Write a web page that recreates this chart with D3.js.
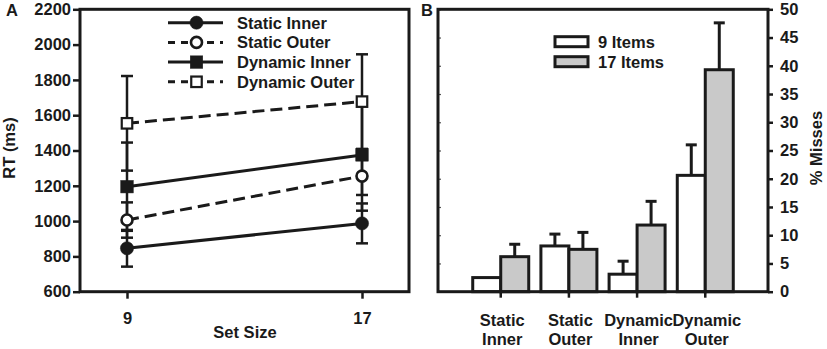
<!DOCTYPE html>
<html><head><meta charset="utf-8">
<script src="https://cdn.jsdelivr.net/npm/d3@7"></script>
<style>
html,body{margin:0;padding:0;background:#fff;}
svg text{font-family:"Liberation Sans",Arial,Helvetica,sans-serif;font-weight:bold;fill:#1a1a1a;}
</style></head>
<body>
<svg id="chart" width="827" height="349"></svg>
<script>
// ---------- Panel A data ----------
const setSizes = [9, 17];
const rtSeriesNames = ["Static Inner", "Static Outer", "Dynamic Inner", "Dynamic Outer"];
const rtStaticInner = [846, 987];
const rtStaticOuter = [1006, 1255];
const rtDynamicInner = [1195, 1375];
const rtDynamicOuter = [1554, 1677];
const errStaticInner = [104, 113];
const errStaticOuter = [100, 107];
const errDynamicInner = [250, 316];
const errDynamicOuter = [268, 268];
const rtTicks = [600, 800, 1000, 1200, 1400, 1600, 1800, 2000, 2200];

// ---------- Panel B data ----------
const missCategories = [["Static", "Inner"], ["Static", "Outer"], ["Dynamic", "Inner"], ["Dynamic", "Outer"]];
const missGroups = ["9 Items", "17 Items"];
const miss9 = [2.5, 8.1, 3.1, 20.6];
const miss17 = [6.2, 7.5, 11.8, 39.3];
const missErr9 = [0, 2.1, 2.3, 5.4];
const missErr17 = [2.2, 3.0, 4.2, 8.3];
const missTicks = [0, 5, 10, 15, 20, 25, 30, 35, 40, 45, 50];

const svg = d3.select("#chart");
const ink = "#1a1a1a";
const fs = "16.5px";

// ================= PANEL A =================
const A = {l: 80, r: 409, t: 9.3, b: 291.7};
const xA = d3.scaleLinear().domain([7.4, 18.6]).range([A.l, A.r]);
const yA = d3.scaleLinear().domain([600, 2200]).range([A.b, A.t]);

const gA = svg.append("g");
const yAxisA = d3.axisLeft(yA).tickValues(rtTicks).tickSize(7).tickPadding(2).tickFormat(d3.format("d"));
gA.append("g").attr("transform", `translate(${A.l},0)`).call(yAxisA)
  .call(g => { g.select(".domain").remove();
    g.selectAll("line").attr("stroke", ink).attr("stroke-width", 2.5);
    g.selectAll("text").style("font-size", fs).attr("fill", ink); });
const xAxisA = d3.axisBottom(xA).tickValues(setSizes).tickSize(7).tickPadding(14).tickFormat(d3.format("d"));
gA.append("g").attr("transform", `translate(0,${A.b})`).call(xAxisA)
  .call(g => { g.select(".domain").remove();
    g.selectAll("line").attr("stroke", ink).attr("stroke-width", 2.5);
    g.selectAll("text").style("font-size", fs).attr("fill", ink); });
gA.append("rect").attr("x", A.l).attr("y", A.t).attr("width", A.r - A.l).attr("height", A.b - A.t)
  .attr("fill", "none").attr("stroke", ink).attr("stroke-width", 3);

const seriesA = [
  {name: rtSeriesNames[0], v: rtStaticInner, e: errStaticInner, dash: null, shape: "circle", fill: ink},
  {name: rtSeriesNames[1], v: rtStaticOuter, e: errStaticOuter, dash: "12,6", shape: "circle", fill: "#fff"},
  {name: rtSeriesNames[2], v: rtDynamicInner, e: errDynamicInner, dash: null, shape: "square", fill: ink},
  {name: rtSeriesNames[3], v: rtDynamicOuter, e: errDynamicOuter, dash: "12,6", shape: "square", fill: "#fff"}
];
const line = d3.line().x((d, i) => xA(setSizes[i])).y(d => yA(d));
seriesA.forEach(s => {
  gA.append("path").attr("d", line(s.v)).attr("fill", "none").attr("stroke", ink)
    .attr("stroke-width", 3).attr("stroke-dasharray", s.dash);
});
seriesA.forEach(s => {
  s.v.forEach((v, i) => {
    const x = xA(setSizes[i]);
    gA.append("line").attr("x1", x).attr("x2", x).attr("y1", yA(v - s.e[i])).attr("y2", yA(v + s.e[i]))
      .attr("stroke", ink).attr("stroke-width", 2.5);
    [v - s.e[i], v + s.e[i]].forEach(c => {
      gA.append("line").attr("x1", x - 6).attr("x2", x + 6).attr("y1", yA(c)).attr("y2", yA(c))
        .attr("stroke", ink).attr("stroke-width", 2.5);
    });
  });
});
function marker(g, shape, fill, x, y) {
  if (shape === "circle") {
    g.append("circle").attr("cx", x).attr("cy", y).attr("r", fill === "#fff" ? 5.5 : 6.6)
      .attr("fill", fill).attr("stroke", ink).attr("stroke-width", fill === "#fff" ? 2.6 : 0.5);
  } else {
    const s = fill === "#fff" ? 10.5 : 12.5;
    g.append("rect").attr("x", x - s / 2).attr("y", y - s / 2).attr("width", s).attr("height", s)
      .attr("fill", fill).attr("stroke", ink).attr("stroke-width", fill === "#fff" ? 2.2 : 0.5);
  }
}
seriesA.forEach(s => {
  s.v.forEach((v, i) => marker(gA, s.shape, s.fill, xA(setSizes[i]), yA(v)));
});
// legend A
seriesA.forEach((s, i) => {
  const y = 22.7 + i * 19.7;
  gA.append("line").attr("x1", 168).attr("x2", 223).attr("y1", y).attr("y2", y)
    .attr("stroke", ink).attr("stroke-width", 3).attr("stroke-dasharray", s.dash ? "7,6" : null);
  marker(gA, s.shape, s.fill, 196.5, y);
  gA.append("text").attr("x", 237).attr("y", y).attr("dy", "0.36em").style("font-size", fs).text(s.name);
});
gA.append("text").attr("x", 245).attr("y", 338).attr("text-anchor", "middle").style("font-size", fs).text("Set Size");
gA.append("text").attr("transform", "translate(15,148) rotate(-90)").attr("text-anchor", "middle")
  .style("font-size", fs).text("RT (ms)");
gA.append("text").attr("x", 6).attr("y", 16).style("font-size", fs).text("A");

// ================= PANEL B =================
const B = {l: 438, r: 768, t: 9.3, b: 291.7};
const catKeys = missCategories.map(c => c.join(" "));
const xB = d3.scaleBand().domain(catKeys).range([B.l, B.r]).paddingInner(0).paddingOuter(0.42);
const yB = d3.scaleLinear().domain([0, 50]).range([B.b, B.t]);
const barW = 28;
const gB = svg.append("g");

const yAxisBL = d3.axisRight(yB).tickValues(missTicks).tickSize(3).tickFormat("");
gB.append("g").attr("transform", `translate(${B.l},0)`).call(yAxisBL)
  .call(g => { g.select(".domain").remove(); g.selectAll("line").attr("stroke", "#555").attr("stroke-width", 1.2); });
const yAxisBR = d3.axisRight(yB).tickValues(missTicks).tickSize(5).tickPadding(7);
gB.append("g").attr("transform", `translate(${B.r},0)`).call(yAxisBR)
  .call(g => { g.select(".domain").remove();
    g.selectAll("line").attr("stroke", ink).attr("stroke-width", 2.5);
    g.selectAll("text").style("font-size", fs).attr("fill", ink); });
const xAxisB = d3.axisBottom(xB).tickSize(6).tickFormat("");
gB.append("g").attr("transform", `translate(0,${B.b})`).call(xAxisB)
  .call(g => { g.select(".domain").remove(); g.selectAll("line").attr("stroke", ink).attr("stroke-width", 2.5); });

const groupsB = [
  {name: missGroups[0], v: miss9, e: missErr9, fill: "#ffffff"},
  {name: missGroups[1], v: miss17, e: missErr17, fill: "#c9c9c9"}
];
groupsB.forEach((gr, gi) => {
  catKeys.forEach((c, i) => {
    const cx = xB(c) + xB.bandwidth() / 2;
    const x0 = cx - barW + gi * barW;
    const v = gr.v[i], e = gr.e[i];
    if (e > 0) {
      gB.append("line").attr("x1", x0 + barW / 2).attr("x2", x0 + barW / 2).attr("y1", yB(v)).attr("y2", yB(v + e))
        .attr("stroke", ink).attr("stroke-width", 3);
      gB.append("line").attr("x1", x0 + barW / 2 - 5.5).attr("x2", x0 + barW / 2 + 5.5).attr("y1", yB(v + e)).attr("y2", yB(v + e))
        .attr("stroke", ink).attr("stroke-width", 3);
    }
    gB.append("rect").attr("x", x0).attr("y", yB(v)).attr("width", barW).attr("height", yB(0) - yB(v))
      .attr("fill", gr.fill).attr("stroke", ink).attr("stroke-width", 3);
  });
});
gB.append("rect").attr("x", B.l).attr("y", B.t).attr("width", B.r - B.l).attr("height", B.b - B.t)
  .attr("fill", "none").attr("stroke", ink).attr("stroke-width", 3);

missCategories.forEach((c, i) => {
  const cx = xB(catKeys[i]) + xB.bandwidth() / 2 + 1.5;
  gB.append("text").attr("x", cx).attr("y", 326).attr("text-anchor", "middle").style("font-size", fs).text(c[0]);
  gB.append("text").attr("x", cx).attr("y", 345).attr("text-anchor", "middle").style("font-size", fs).text(c[1]);
});
groupsB.forEach((gr, i) => {
  const y = 36.7 + i * 20;
  gB.append("rect").attr("x", 555).attr("y", y).attr("width", 33).attr("height", 10)
    .attr("fill", gr.fill).attr("stroke", ink).attr("stroke-width", 3);
  gB.append("text").attr("x", 598).attr("y", y + 5).attr("dy", "0.36em").style("font-size", fs).text(gr.name);
});
gB.append("text").attr("transform", "translate(822,148) rotate(-90)").attr("text-anchor", "middle")
  .style("font-size", fs).text("% Misses");
gB.append("text").attr("x", 421).attr("y", 16).style("font-size", fs).text("B");
</script>
</body></html>
